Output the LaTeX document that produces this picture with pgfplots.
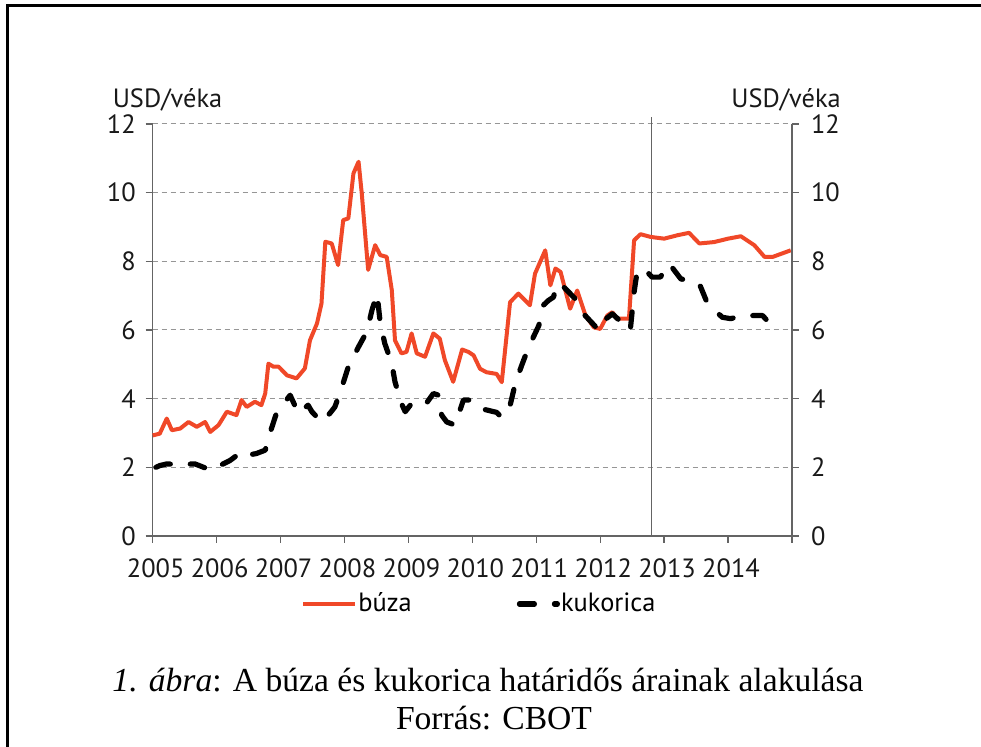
\documentclass[border=0pt]{standalone}
\usepackage{fontspec}
\setmainfont{Liberation Serif}
\newfontfamily\chartfont{PT Sans}
\usepackage{pgfplots}
\pgfplotsset{compat=1.18}
\definecolor{wheat}{RGB}{240,72,40}
\definecolor{gridgray}{RGB}{150,150,150}
\definecolor{axgray}{RGB}{100,100,100}

\pgfplotstableread{
x y
2005.00 2.93
2005.11 2.98
2005.22 3.42
2005.30 3.08
2005.43 3.13
2005.56 3.32
2005.69 3.18
2005.82 3.32
2005.90 3.03
2006.03 3.23
2006.16 3.62
2006.31 3.52
2006.39 3.96
2006.47 3.76
2006.60 3.91
2006.70 3.81
2006.76 4.15
2006.81 5.02
2006.89 4.93
2006.97 4.93
2007.10 4.68
2007.25 4.59
2007.38 4.88
2007.46 5.70
2007.57 6.19
2007.64 6.77
2007.70 8.57
2007.80 8.52
2007.90 7.89
2007.98 9.20
2008.06 9.25
2008.14 10.56
2008.22 10.90
2008.27 9.98
2008.37 7.75
2008.48 8.47
2008.56 8.18
2008.66 8.13
2008.74 7.16
2008.79 5.70
2008.89 5.32
2008.97 5.36
2009.05 5.90
2009.13 5.32
2009.26 5.22
2009.39 5.90
2009.49 5.75
2009.57 5.12
2009.70 4.49
2009.84 5.43
2009.94 5.36
2010.02 5.26
2010.12 4.87
2010.22 4.77
2010.38 4.72
2010.46 4.48
2010.59 6.81
2010.72 7.06
2010.90 6.72
2010.98 7.64
2011.14 8.32
2011.22 7.30
2011.30 7.79
2011.38 7.69
2011.53 6.62
2011.64 7.15
2011.77 6.42
2011.90 6.08
2012.00 6.03
2012.11 6.42
2012.19 6.52
2012.26 6.33
2012.45 6.33
2012.53 8.61
2012.63 8.79
2012.79 8.71
2013.00 8.66
2013.21 8.76
2013.39 8.83
2013.55 8.52
2013.78 8.56
2014.00 8.66
2014.20 8.73
2014.41 8.47
2014.57 8.13
2014.70 8.13
2014.98 8.32
}\buza

\pgfplotstableread{
x y
2005.05 2.00
2005.11 2.05
2005.22 2.10
2005.40 2.08
2005.66 2.10
2005.92 1.91
2006.05 2.05
2006.21 2.20
2006.39 2.45
2006.47 2.35
2006.62 2.40
2006.76 2.50
2006.84 3.03
2006.94 3.60
2007.15 4.10
2007.28 3.57
2007.43 3.81
2007.49 3.62
2007.64 3.32
2007.77 3.57
2007.85 3.76
2007.96 4.34
2008.06 4.93
2008.22 5.51
2008.35 5.95
2008.43 6.58
2008.51 7.05
2008.56 6.19
2008.63 5.61
2008.74 5.02
2008.79 4.49
2008.89 3.86
2008.95 3.62
2009.05 3.86
2009.26 3.81
2009.39 4.15
2009.47 4.10
2009.52 3.52
2009.60 3.32
2009.73 3.23
2009.86 3.96
2009.96 3.96
2010.09 3.73
2010.38 3.60
2010.46 3.45
2010.59 3.80
2010.67 4.43
2010.77 4.96
2010.88 5.50
2011.04 6.13
2011.11 6.72
2011.19 6.86
2011.27 6.96
2011.32 7.35
2011.43 7.25
2011.53 7.06
2011.61 6.91
2011.74 6.47
2011.98 5.99
2012.06 6.28
2012.19 6.47
2012.47 5.99
2012.53 7.10
2012.58 7.74
2012.71 7.74
2012.81 7.54
2012.94 7.54
2013.08 7.93
2013.26 7.49
2013.55 7.35
2013.68 6.76
2013.91 6.37
2014.04 6.33
2014.23 6.42
2014.54 6.42
2014.75 5.99
}\kukorica

\pgfplotsset{
  common/.style={
    at={(76.35pt,105.5pt)}, anchor=south west,
    scale only axis, width=319.65pt, height=206pt,
    xmin=2005, xmax=2015, ymin=0, ymax=12,
    ytick={0,2,...,12},
    tick align=outside,
    major tick length=3.5pt,
    axis line style={axgray, line width=0.7pt, -},
    every tick/.style={axgray, line width=0.6pt},
    tick label style={font=\chartfont\fontsize{13.2}{15}\selectfont, black!90},
    /pgf/number format/assume math mode=true,
  }
}

\begin{document}
\begin{tikzpicture}
\path[use as bounding box] (0,0) rectangle (490.5pt,373.5pt);
\draw[line width=1.5pt] (3.5pt,0) -- (3.5pt,370.5pt) -- (490.5pt,370.5pt);

\begin{axis}[common,
  axis x line*=bottom, axis y line*=left,
  xtick={2005,...,2015},
  xticklabels={2005,2006,2007,2008,2009,2010,2011,2012,2013,2014,},
  xticklabel style={yshift=-4.5pt, xshift=1.5pt},
  yticklabel style={xshift=-1.5pt},
  ymajorgrids,
  grid style={gridgray, line width=0.5pt, dash pattern=on 2.5pt off 2pt},
  clip=false,
  legend columns=2,
  legend style={draw=none, fill=none, at={(0.51,-0.165)}, anchor=center,
    font=\chartfont\fontsize{13.2}{15}\selectfont,
    /tikz/every even column/.append style={column sep=52pt},
    nodes={inner sep=0.5pt}, cells={anchor=west}},
]
\addplot[axgray, line width=0.6pt, forget plot] coordinates {(2012.8,0) (2012.8,12.2)};
\addplot[wheat, line width=2pt, line join=round,
  legend image code/.code={\draw[wheat, line width=2.2pt] (0pt,0pt) -- (26pt,0pt);}]
  table[x=x, y=y] {\buza};
\addplot[black, line width=2.6pt, line cap=round, line join=round, dash pattern=on 7.5pt off 10pt,
  legend image code/.code={\draw[black, line width=2.6pt, line cap=round] (1.5pt,0pt) -- (12pt,0pt) (19pt,0pt) -- (20.5pt,0pt);}]
  table[x=x, y=y] {\kukorica};
\legend{búza,kukorica}
\end{axis}

\begin{axis}[common,
  axis x line=none, axis y line*=right,
  yticklabel style={xshift=2.5pt},
]
\end{axis}

\node[font=\chartfont\fontsize{13.2}{15}\selectfont, black!90] at (83.75pt,323.5pt) {USD/véka};
\node[font=\chartfont\fontsize{13.2}{15}\selectfont, black!90] at (393pt,323.5pt) {USD/véka};

\node[font=\fontsize{16.8}{20}\selectfont] at (244pt,33.5pt) {\textit{1. ábra}: A búza és kukorica határidős árainak alakulása};
\node[font=\fontsize{16.8}{20}\selectfont] at (247pt,14.5pt) {Forrás: CBOT};
\end{tikzpicture}
\end{document}
